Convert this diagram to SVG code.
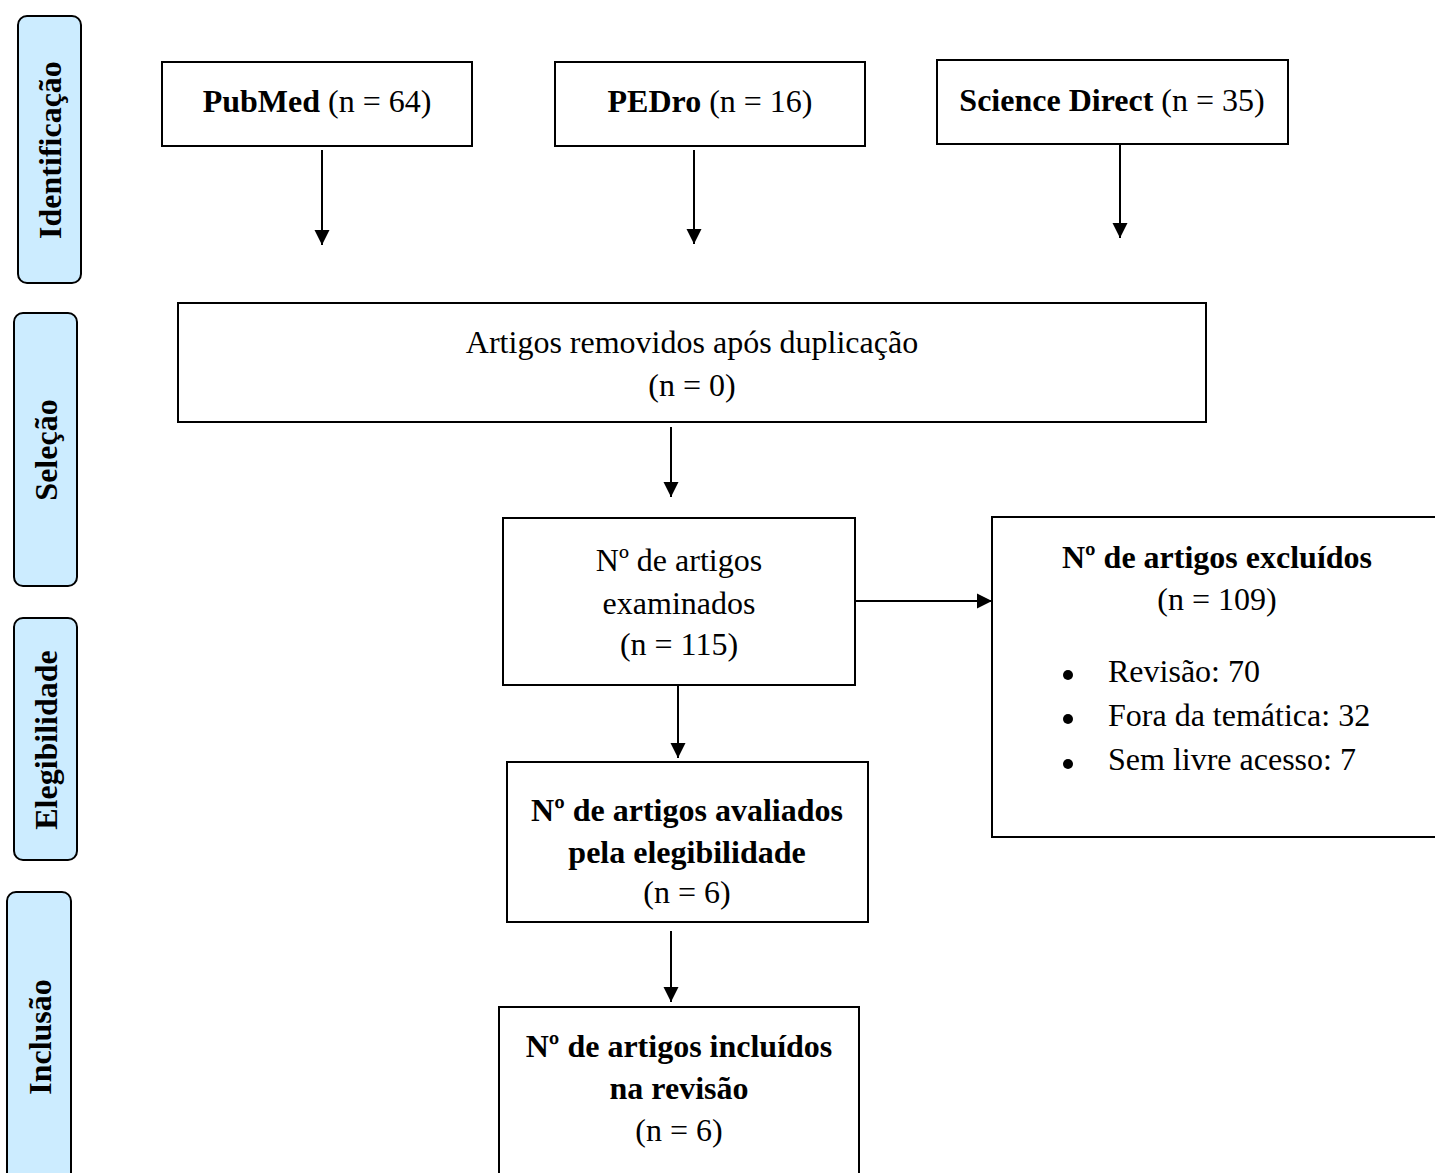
<svg xmlns="http://www.w3.org/2000/svg" width="1435" height="1173" viewBox="0 0 1435 1173">
<defs>
<style>
.box{fill:#ffffff;stroke:#000000;stroke-width:2}
.side{fill:#CCECFF;stroke:#000000;stroke-width:2}
.t{font-family:"Liberation Serif","Times New Roman",serif;font-size:32px;fill:#000000}
.c{text-anchor:middle}
.b{font-weight:bold}
.dot{fill:#000000}
.conn{stroke:#000000;stroke-width:2;fill:none;marker-end:url(#ah)}
</style>
<marker id="ah" markerUnits="userSpaceOnUse" markerWidth="16" markerHeight="16" viewBox="0 0 16 16" refX="15" refY="8" orient="auto">
<path d="M0,0.5 L15,8 L0,15.5 Z" fill="#000000"/>
</marker>
</defs>
<rect width="1435" height="1173" fill="#ffffff"/>

<g id="stage-identificacao">
<rect class="side" x="18" y="16" width="63" height="267" rx="9"/>
<text class="t b c" transform="translate(61,150) rotate(-90)">Identificação</text>
</g>
<g id="stage-selecao">
<rect class="side" x="14" y="313" width="63" height="273" rx="9"/>
<text class="t b c" transform="translate(57,450) rotate(-90)">Seleção</text>
</g>
<g id="stage-elegibilidade">
<rect class="side" x="14" y="618" width="63" height="242" rx="9"/>
<text class="t b c" transform="translate(57,740) rotate(-90)">Elegibilidade</text>
</g>
<g id="stage-inclusao">
<rect class="side" x="7" y="892" width="64" height="292" rx="9"/>
<text class="t b c" transform="translate(51,1037) rotate(-90)">Inclusão</text>
</g>

<g id="pubmed">
<rect class="box" x="162" y="62" width="310" height="84"/>
<text class="t c" x="317" y="112"><tspan class="b">PubMed</tspan> (n = 64)</text>
</g>
<g id="pedro">
<rect class="box" x="555" y="62" width="310" height="84"/>
<text class="t c" x="710" y="112"><tspan class="b">PEDro</tspan> (n = 16)</text>
</g>
<g id="sciencedirect">
<rect class="box" x="937" y="60" width="351" height="84"/>
<text class="t c" x="1112" y="111"><tspan class="b">Science Direct</tspan> (n = 35)</text>
</g>

<g id="removidos">
<rect class="box" x="178" y="303" width="1028" height="119"/>
<text class="t c" x="692" y="353">Artigos removidos após duplicação</text>
<text class="t c" x="692" y="396">(n = 0)</text>
</g>

<g id="examinados">
<rect class="box" x="503" y="518" width="352" height="167"/>
<text class="t c" x="679" y="571">Nº de artigos</text>
<text class="t c" x="679" y="614">examinados</text>
<text class="t c" x="679" y="655">(n = 115)</text>
</g>

<g id="excluidos">
<rect class="box" x="992" y="517" width="452" height="320"/>
<text class="t b c" x="1217" y="568">Nº de artigos excluídos</text>
<text class="t c" x="1217" y="610">(n = 109)</text>
<circle class="dot" cx="1068" cy="675" r="5"/>
<text class="t" x="1108" y="682">Revisão: 70</text>
<circle class="dot" cx="1068" cy="719" r="5"/>
<text class="t" x="1108" y="726">Fora da temática: 32</text>
<circle class="dot" cx="1068" cy="764" r="5"/>
<text class="t" x="1108" y="770">Sem livre acesso: 7</text>
</g>

<g id="avaliados">
<rect class="box" x="507" y="762" width="361" height="160"/>
<text class="t b c" x="687" y="821">Nº de artigos avaliados</text>
<text class="t b c" x="687" y="863">pela elegibilidade</text>
<text class="t c" x="687" y="903">(n = 6)</text>
</g>

<g id="incluidos">
<rect class="box" x="499" y="1007" width="360" height="180"/>
<text class="t b c" x="679" y="1057">Nº de artigos incluídos</text>
<text class="t b c" x="679" y="1099">na revisão</text>
<text class="t c" x="679" y="1141">(n = 6)</text>
</g>

<g id="connectors">
<line class="conn" x1="322" y1="150" x2="322" y2="245"/>
<line class="conn" x1="694" y1="150" x2="694" y2="244"/>
<line class="conn" x1="1120" y1="144" x2="1120" y2="238"/>
<line class="conn" x1="671" y1="427" x2="671" y2="497"/>
<line class="conn" x1="855" y1="601" x2="992" y2="601"/>
<line class="conn" x1="678" y1="685" x2="678" y2="758"/>
<line class="conn" x1="671" y1="931" x2="671" y2="1002"/>
</g>
</svg>
